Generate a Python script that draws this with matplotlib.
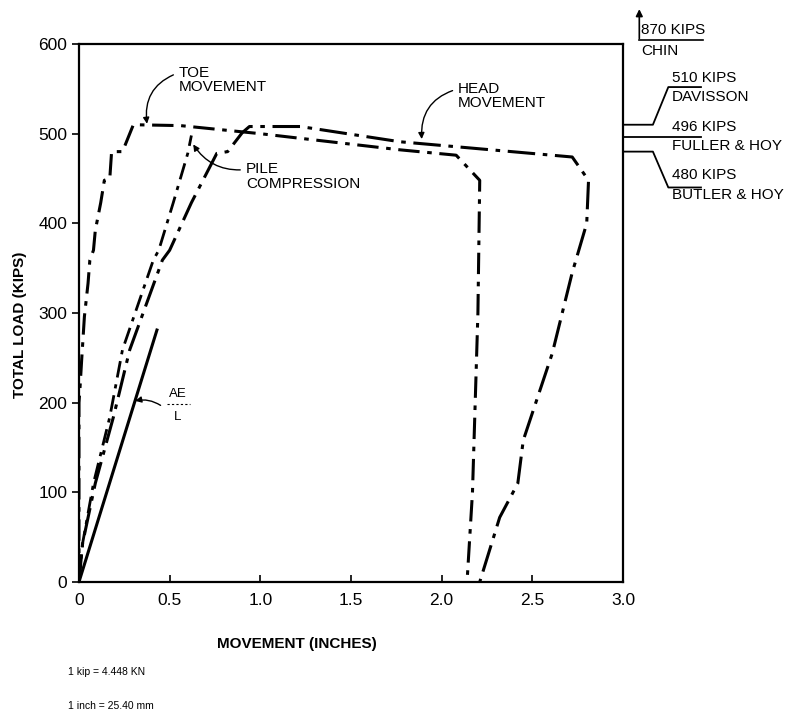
import numpy as np
import matplotlib.pyplot as plt

# =====================================================
# DATA
# =====================================================

# toe movement (in, kips)
toe_x = [0.0, 0.0, 0.005, 0.015, 0.03, 0.05, 0.06, 0.08, 0.09, 0.12, 0.14, 0.17, 0.18, 0.24, 0.30,
         0.56, 1.0, 1.77, 2.08, 2.21, 2.20, 2.17, 2.14]
toe_y = [0, 200, 214, 248, 296, 333, 359, 370, 392, 423, 448, 450, 480, 480, 510,
         509, 500, 482, 476, 448, 300, 100, 0]

# head movement
head_x = [0.0, 0.02, 0.09, 0.19, 0.28, 0.46, 0.50, 0.62, 0.76, 0.82, 0.90, 0.94, 1.22, 1.77,
          2.72, 2.81, 2.80, 2.72, 2.61, 2.45, 2.42, 2.32, 2.21]
head_y = [0, 43, 110, 184, 259, 359, 370, 423, 478, 480, 501, 508, 508, 491,
          474, 448, 400, 345, 255, 158, 110, 72, 0]

# pile compression
comp_x = [0.0, 0.02, 0.08, 0.17, 0.24, 0.41, 0.44, 0.52, 0.60, 0.62]
comp_y = [0, 43, 110, 184, 259, 359, 370, 423, 478, 498]

# elastic line AE/L
ael_x = [0.0, 0.43]
ael_y = [0, 281]

# failure loads by method
crit_loads = [510, 496, 480]
crit_kips = ["510 KIPS", "496 KIPS", "480 KIPS"]
crit_names = ["DAVISSON", "FULLER & HOY", "BUTLER & HOY"]

x_ticks = [0, 0.5, 1.0, 1.5, 2.0, 2.5, 3.0]
x_ticklabels = ["0", "0.5", "1.0", "1.5", "2.0", "2.5", "3.0"]
y_ticks = [0, 100, 200, 300, 400, 500, 600]

# =====================================================
# PLOT
# =====================================================

plt.rcParams['font.family'] = ['Liberation Sans', 'DejaVu Sans']

fig = plt.figure(figsize=(7.92, 7.17), dpi=100)
ax = fig.add_axes([0.0997, 0.1883, 0.6869, 0.7503])

ax.plot(toe_x, toe_y, color="black", lw=2.2, dashes=(7, 2.5, 1.5, 2.5))
ax.plot(head_x, head_y, color="black", lw=2.2, dashes=(9, 2.5, 1.5, 2.5))
ax.plot(comp_x, comp_y, color="black", lw=2.0, dashes=(6, 2.5, 1.5, 2.5))
ax.plot(ael_x, ael_y, color="black", lw=2.2)

ax.set_xlim(0, 3.0)
ax.set_ylim(0, 600)
ax.set_xticks(x_ticks)
ax.set_xticklabels(x_ticklabels)
ax.set_yticks(y_ticks)
ax.tick_params(axis="x", direction="in", length=5, width=1.2, labelsize=12.5, pad=8)
ax.tick_params(axis="y", direction="out", length=5, width=1.2, labelsize=12.5)
for s in ax.spines.values():
    s.set_linewidth(1.6)

ax.text(-0.108, 0.478, "TOTAL LOAD (KIPS)", transform=ax.transAxes, rotation=90,
        ha="center", va="center", fontsize=11, fontweight="bold")
ax.text(0.40, -0.115, "MOVEMENT (INCHES)", transform=ax.transAxes,
        ha="center", va="center", fontsize=11, fontweight="bold")

# curve labels
FS = 11
arr = dict(arrowstyle="-|>", color="black", lw=1.0, mutation_scale=9)
ax.annotate("TOE\nMOVEMENT", xy=(0.375, 511), xytext=(0.55, 560),
            fontsize=FS, ha="left", va="center", linespacing=1.05,
            arrowprops=dict(arr, connectionstyle="arc3,rad=0.4",
                            shrinkA=2, shrinkB=0, relpos=(0, 0.75)))
ax.annotate("HEAD\nMOVEMENT", xy=(1.89, 494), xytext=(2.09, 542),
            fontsize=FS, ha="left", va="center", linespacing=1.05,
            arrowprops=dict(arr, connectionstyle="arc3,rad=0.4",
                            shrinkA=2, shrinkB=0, relpos=(0, 0.75)))
ax.annotate("PILE\nCOMPRESSION", xy=(0.63, 488), xytext=(0.92, 452),
            fontsize=FS, ha="left", va="center", linespacing=1.05,
            arrowprops=dict(arr, connectionstyle="arc3,rad=-0.3",
                            shrinkA=2, shrinkB=0, relpos=(0, 0.75)))

# AE / L label
ax.annotate("", xy=(0.31, 202), xytext=(0.45, 197),
            arrowprops=dict(arr, connectionstyle="arc3,rad=0.2", shrinkA=0, shrinkB=0))
ax.text(0.546, 210, "AE", fontsize=9.5, ha="center", va="center")
ax.plot([0.485, 0.61], [198, 198], color="black", lw=0.8, dashes=(2, 2))
ax.text(0.546, 184, "L", fontsize=9.5, ha="center", va="center")

# right side criteria
ax.annotate("", xy=(3.09, 642), xytext=(3.09, 603),
            arrowprops=dict(arrowstyle="-|>", color="black", lw=1.2, mutation_scale=10),
            annotation_clip=False)
ax.plot([3.09, 3.44], [604, 604], color="black", lw=1.2, clip_on=False)
ax.text(3.10, 616, "870 KIPS", fontsize=FS, ha="left", va="center")
ax.text(3.10, 592, "CHIN", fontsize=FS, ha="left", va="center")

dx = [3.0, 3.165, 3.25, 3.43]
ax.plot(dx, [crit_loads[0], crit_loads[0], 552, 552], color="black", lw=1.3, clip_on=False)
ax.plot([3.0, 3.43], [crit_loads[1], crit_loads[1]], color="black", lw=1.3, clip_on=False)
ax.plot(dx, [crit_loads[2], crit_loads[2], 440, 440], color="black", lw=1.3, clip_on=False)

ax.text(3.27, 562, crit_kips[0], fontsize=FS, ha="left", va="center")
ax.text(3.27, 541, crit_names[0], fontsize=FS, ha="left", va="center")
ax.text(3.27, 508, crit_kips[1], fontsize=FS, ha="left", va="center")
ax.text(3.27, 486, crit_names[1], fontsize=FS, ha="left", va="center")
ax.text(3.27, 454, crit_kips[2], fontsize=FS, ha="left", va="center")
ax.text(3.27, 432, crit_names[2], fontsize=FS, ha="left", va="center")

# unit notes
fig.text(68 / 792, 1 - 672 / 717, "1 kip = 4.448 KN", fontsize=7.5, va="center")
fig.text(68 / 792, 1 - 706 / 717, "1 inch = 25.40 mm", fontsize=7.5, va="center")

fig.savefig("out.png", dpi=100)
